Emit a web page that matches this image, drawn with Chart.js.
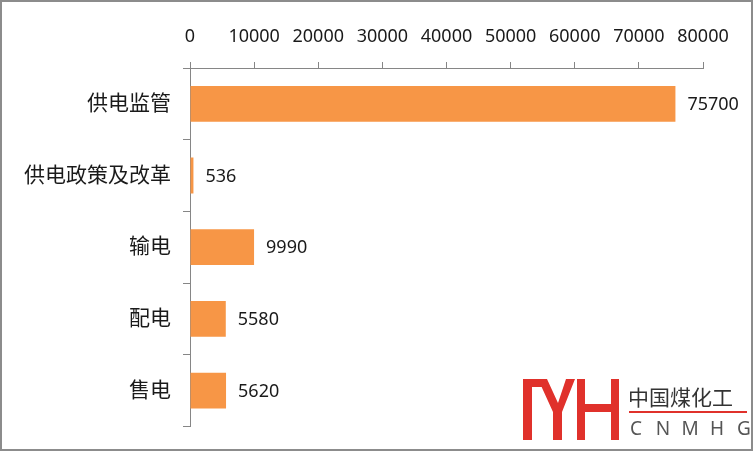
<!DOCTYPE html>
<html>
<head>
<meta charset="utf-8">
<script src="https://cdn.jsdelivr.net/npm/chart.js@4/dist/chart.umd.min.js"></script>
<style>
  body { margin: 0; background: #fff; }
  canvas { display: block; }
</style>
</head>
<body>
<canvas id="chart" width="753" height="451"></canvas>
<script>
var categories = ['供电监管', '供电政策及改革', '输电', '配电', '售电'];
var values = [75700, 536, 9990, 5580, 5620];
var tickMax = 80000;
var tickStep = 10000;

var fontFamily = '"Noto Sans", "Noto Sans CJK SC", sans-serif';
var axisColor = '#868686';

// labels at the end of each bar
var valueLabels = {
    id: 'valueLabels',
    afterDatasetsDraw: function (chart) {
        var ctx = chart.ctx;
        var meta = chart.getDatasetMeta(0);
        ctx.save();
        ctx.font = '18px ' + fontFamily;
        ctx.fillStyle = '#1a1a1a';
        ctx.textBaseline = 'middle';
        ctx.textAlign = 'left';
        meta.data.forEach(function (bar, i) {
            ctx.fillText(String(values[i]), bar.x + 12, bar.y + 1);
        });
        ctx.restore();
    }
};

// frame and the corner logo
var frameAndLogo = {
    id: 'frameAndLogo',
    afterDraw: function (chart) {
        var ctx = chart.ctx;
        ctx.save();
        ctx.strokeStyle = '#8c8c8c';
        ctx.lineWidth = 2;
        ctx.strokeRect(1, 1, 751, 449);

        var red = '#e0312b';
        ctx.fillStyle = red;
        ctx.fillRect(523, 379, 9, 61);
        ctx.fillRect(523, 379, 19, 8);
        // the V
        ctx.beginPath();
        ctx.moveTo(538, 379);
        ctx.lineTo(547, 379);
        ctx.lineTo(558, 403);
        ctx.lineTo(566, 379);
        ctx.lineTo(575, 379);
        ctx.lineTo(562, 412);
        ctx.lineTo(553, 412);
        ctx.closePath();
        ctx.fill();
        ctx.fillRect(553, 405, 9, 35);
        // the H
        ctx.fillRect(577, 379, 8, 61);
        ctx.fillRect(585, 404, 26, 8);
        ctx.fillRect(611, 379, 8, 61);

        ctx.fillStyle = '#333';
        ctx.font = '21px "Noto Sans CJK SC", sans-serif';
        ctx.textBaseline = 'middle';
        ctx.textAlign = 'left';
        ctx.fillText('中国煤化工', 628, 397);
        ctx.fillStyle = red;
        ctx.fillRect(629, 411, 118, 2);
        ctx.fillStyle = '#555';
        ctx.font = '19px "Noto Sans", sans-serif';
        ctx.textAlign = 'center';
        'CNMHG'.split('').forEach(function (c, i) {
            ctx.fillText(c, 636 + i * 27, 430);
        });
        ctx.restore();
    }
};

var ctx = document.getElementById('chart').getContext('2d');
var chart = new Chart(ctx, {
    type: 'bar',
    data: {
        labels: categories,
        datasets: [{
            data: values,
            backgroundColor: '#f79646',
            borderWidth: 0,
            categoryPercentage: 1,
            barPercentage: 0.5
        }]
    },
    options: {
        indexAxis: 'y',
        responsive: false,
        animation: false,
        layout: { padding: { left: 0, top: 0, right: 50, bottom: 23 } },
        plugins: {
            legend: { display: false },
            tooltip: { enabled: false }
        },
        scales: {
            x: {
                position: 'top',
                min: 0,
                max: tickMax,
                ticks: {
                    stepSize: tickStep,
                    color: '#1a1a1a',
                    font: { size: 18, family: fontFamily },
                    padding: 14,
                    maxRotation: 0,
                    callback: function (v) { return String(v); }
                },
                grid: {
                    drawOnChartArea: false,
                    drawTicks: true,
                    tickLength: 6,
                    color: axisColor
                },
                border: { color: axisColor, width: 1 },
                afterFit: function (s) { s.height = 68; }
            },
            y: {
                ticks: {
                    color: '#1a1a1a',
                    font: { size: 21, family: fontFamily },
                    padding: 12
                },
                grid: {
                    drawOnChartArea: false,
                    drawTicks: true,
                    tickLength: 7,
                    color: axisColor,
                    offset: true
                },
                border: { color: axisColor, width: 1 },
                afterFit: function (s) { s.width = 190; }
            }
        }
    },
    plugins: [valueLabels, frameAndLogo]
});
</script>
</body>
</html>
